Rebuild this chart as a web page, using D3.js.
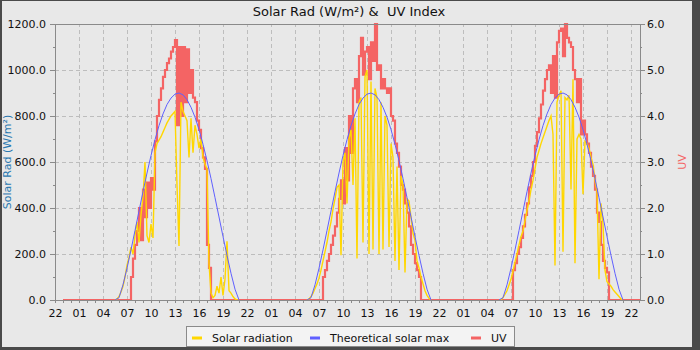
<!doctype html>
<html>
<head>
<meta charset="utf-8">
<style>
	body {
		margin: 0;
	}
	.grid line {
		stroke: #bdbdbd;
		stroke-dasharray: 4, 3;
		shape-rendering: crispEdges;
	}
	.grid path {
		stroke: none;
	}
	.axis text {
		font: 11px "DejaVu Sans", sans-serif;
		fill: #111;
	}
	.axis path, .axis line {
		stroke: #8a8a8a;
		shape-rendering: crispEdges;
	}
	.frame {
		fill: none;
		stroke: #8a8a8a;
		shape-rendering: crispEdges;
	}
	.series {
		fill: none;
		stroke-linejoin: miter;
	}
	.lbl {
		font: 11px "DejaVu Sans", sans-serif;
	}
	.title {
		font: 13px "DejaVu Sans", sans-serif;
		white-space: pre;
	}
</style>
<script src="https://d3js.org/d3.v7.min.js"></script>
</head>
<body>
<div id="canvas"></div>
<script>
	// hours counted from midnight of the first full day; each day has
	// 15-minute samples from 05:30 to 21:00
	var sampleStart = 5.5,
		sampleStep = 0.25;

	var solarDay1 = [0, 5, 15, 35, 60, 100, 150, 185, 230, 200, 280, 340, 250, 370, 450, 600,
		280, 250, 330, 270, 640, 680, 695, 710, 730, 750, 770, 785, 800, 810, 820, 500,
		235, 860, 820, 800, 780, 620, 790, 640, 760, 720, 660, 700, 620, 590, 570, 160,
		30, 10, 20, 60, 30, 100, 20, 90, 255, 40, 30, 15, 5, 0, 0];
	var solarDay2 = [0, 5, 15, 30, 50, 70, 95, 130, 170, 210, 250, 300, 340, 395, 440, 490,
		500, 195, 600, 640, 420, 700, 740, 500, 790, 180, 860, 880, 250, 970, 1000, 200,
		950, 220, 920, 880, 200, 860, 220, 800, 760, 230, 680, 620, 170, 580, 130, 540,
		500, 120, 440, 430, 360, 290, 260, 170, 140, 100, 70, 40, 20, 8, 0];
	var solarDay3 = [0, 0, 10, 25, 40, 65, 90, 125, 165, 200, 240, 275, 300, 345, 390, 430,
		480, 520, 570, 620, 650, 680, 705, 730, 755, 780, 800, 720, 150, 860, 890, 910,
		210, 880, 870, 890, 480, 960, 160, 700, 720, 700, 460, 690, 680, 660, 620, 590,
		520, 470, 90, 420, 330, 130, 80, 70, 60, 45, 35, 25, 15, 5, 0];

	var uvDay1 = [0, 0, 0, 0, 0, 0, 0, 0, 0.5, 0.9, 1.2, 1.5, 2.0, 1.3, 2.4, 1.8,
		2.55, 2.0, 2.65, 2.4, 3.45, 4.0, 4.35, 4.6, 4.85, 5.0, 5.15, 5.25, 5.4, 5.5, 5.65, 3.8,
		5.5, 4.0, 5.5, 4.3, 5.45, 4.5, 5.0, 4.4, 4.3, 3.9, 3.7, 3.3, 3.1, 2.85, 1.2, 0.7,
		0, 0, 0, 0, 0, 0, 0, 0, 0, 0, 0, 0, 0, 0, 0];
	var uvDay2 = [0, 0, 0, 0, 0, 0, 0, 0, 0.5, 0.65, 0.85, 1.0, 1.2, 1.4, 1.6, 1.9,
		2.2, 2.6, 2.1, 3.3, 2.6, 4.0, 3.2, 4.6, 4.8, 4.3, 5.3, 5.7, 4.9, 5.4, 5.5, 4.8,
		5.6, 5.2, 6.0, 5.0, 5.1, 4.6, 4.8, 4.6, 4.5, 4.6, 4.0, 3.9, 3.4, 3.2, 2.9, 2.5,
		2.4, 2.1, 1.9, 1.6, 1.2, 1.0, 0.8, 0.65, 0.5, 0, 0, 0, 0, 0, 0];
	var uvDay3 = [0, 0, 0, 0, 0, 0, 0, 0.65, 0.8, 1.0, 1.15, 1.35, 1.6, 1.85, 2.1, 2.45,
		2.7, 3.0, 3.35, 3.65, 3.95, 4.25, 4.55, 4.8, 5.0, 5.1, 4.5, 5.3, 4.4, 5.6, 5.85, 5.9,
		5.3, 6.0, 5.7, 5.6, 5.5, 5.0, 4.8, 4.3, 4.8, 3.6, 3.9, 3.6, 3.4, 3.2, 2.9, 2.7,
		2.4, 1.9, 1.7, 1.2, 0.85, 0.7, 0.6, 0, 0, 0, 0, 0, 0, 0, 0];

	// theoretical clear-sky maximum, half-hourly 05:30 - 21:00
	var theoStart = 5.5,
		theoStep = 0.5;
	var theoMax = [0, 10, 66, 138, 218, 302, 387, 471, 552, 628, 697, 758, 809, 850, 878, 895,
		900, 892, 871, 838, 795, 741, 677, 606, 528, 445, 361, 276, 194, 116, 47, 0];

	var xDomain = [-2, 71.125],
		yDomain = [0, 1200],
		uvDomain = [0, 6];

	var seriesNames = ["Solar radiation", "Theoretical solar max", "UV"],
		seriesColors = ["#ffd700", "#6060ff", "#f46464"];

	var width = 700,
		height = 350,
		margin = {top: 24, right: 60, bottom: 50, left: 55};

	var svg = d3.select("#canvas")
		.append("svg")
		.attr("width", width)
		.attr("height", height);

	svg.append("rect")
		.attr("width", width)
		.attr("height", height)
		.attr("fill", "#4a4a4a");

	svg.append("rect")
		.attr("x", 2)
		.attr("y", 1)
		.attr("width", 690)
		.attr("height", 346)
		.attr("fill", "#e8e8e8");

	var x = d3.scaleLinear()
		.domain(xDomain)
		.range([margin.left, width - margin.right]);

	var y = d3.scaleLinear()
		.domain(yDomain)
		.range([height - margin.bottom, margin.top]);

	var yUV = d3.scaleLinear()
		.domain(uvDomain)
		.range([height - margin.bottom, margin.top]);

	var hourLabel = function(h) {
		var hh = ((h % 24) + 24) % 24;
		return (hh < 10 ? "0" : "") + hh;
	};

	var majorHours = d3.range(-2, 71, 3),
		minorHours = d3.range(-2, 72, 1);

	// grid
	svg.append("g")
		.attr("class", "grid")
		.attr("transform", `translate(${margin.left}, 0)`)
		.call(d3.axisLeft(y)
			.tickValues(d3.range(200, 1200, 200))
			.tickSize(-(width - margin.left - margin.right))
			.tickFormat(""));

	svg.append("g")
		.attr("class", "grid")
		.attr("transform", `translate(0, ${height - margin.bottom})`)
		.call(d3.axisBottom(x)
			.tickValues(majorHours.slice(1))
			.tickSize(-(height - margin.top - margin.bottom))
			.tickFormat(""));

	// series
	svg.append("clipPath")
		.attr("id", "clip")
	  .append("rect")
		.attr("x", margin.left)
		.attr("y", margin.top - 2)
		.attr("width", width - margin.left - margin.right)
		.attr("height", height - margin.top - margin.bottom + 4);

	var plot = svg.append("g")
		.attr("clip-path", "url(#clip)");

	var uvPoints = [{h: -1, v: 0}];
	[uvDay1, uvDay2, uvDay3].forEach(function(vals, d) {
		vals.forEach(function(v, i) {
			uvPoints.push({h: d * 24 + sampleStart + i * sampleStep, v: v});
		});
	});
	uvPoints.push({h: xDomain[1] + 1, v: 0});

	var solarPoints = [solarDay1, solarDay2, solarDay3].map(function(vals, d) {
		return vals.map((v, i) => ({h: d * 24 + sampleStart + i * sampleStep, v: v}));
	});

	var theoPoints = [0, 1, 2].map(function(d) {
		return theoMax.map((v, i) => ({h: d * 24 + theoStart + i * theoStep, v: v}));
	});

	var uvLine = d3.line()
		.x(d => x(d.h))
		.y(d => yUV(d.v))
		.curve(d3.curveStepAfter);

	var solarLine = d3.line()
		.x(d => x(d.h))
		.y(d => y(d.v));

	var theoLine = d3.line()
		.x(d => x(d.h))
		.y(d => y(d.v));

	plot.append("path")
		.attr("class", "series")
		.attr("d", uvLine(uvPoints))
		.attr("stroke", seriesColors[2])
		.attr("stroke-width", 2.2);

	plot.selectAll(".solar")
		.data(solarPoints)
	  .enter().append("path")
		.attr("class", "series solar")
		.attr("d", solarLine)
		.attr("stroke", seriesColors[0])
		.attr("stroke-width", 1.4);

	plot.selectAll(".theo")
		.data(theoPoints)
	  .enter().append("path")
		.attr("class", "series theo")
		.attr("d", theoLine)
		.attr("stroke", seriesColors[1])
		.attr("stroke-width", 1);

	// frame and axes
	svg.append("rect")
		.attr("class", "frame")
		.attr("x", margin.left + 0.5)
		.attr("y", margin.top + 0.5)
		.attr("width", width - margin.left - margin.right)
		.attr("height", height - margin.top - margin.bottom);

	svg.append("g")
		.attr("class", "axis")
		.attr("transform", `translate(${margin.left}, 0)`)
		.call(d3.axisLeft(y)
			.tickValues(d3.range(0, 1201, 200))
			.tickSize(5)
			.tickSizeOuter(0)
			.tickPadding(4)
			.tickFormat(d3.format(".1f")));

	svg.append("g")
		.attr("class", "axis")
		.attr("transform", `translate(${margin.left}, 0)`)
		.call(d3.axisLeft(y)
			.tickValues(d3.range(100, 1200, 200))
			.tickSize(2)
			.tickSizeOuter(0)
			.tickFormat(""));

	svg.append("g")
		.attr("class", "axis")
		.attr("transform", `translate(${width - margin.right}, 0)`)
		.call(d3.axisRight(yUV)
			.tickValues(d3.range(0, 6.01, 1))
			.tickSize(5)
			.tickSizeOuter(0)
			.tickPadding(2)
			.tickFormat(d3.format(".1f")));

	svg.append("g")
		.attr("class", "axis")
		.attr("transform", `translate(${width - margin.right}, 0)`)
		.call(d3.axisRight(yUV)
			.tickValues(d3.range(0.5, 6, 1))
			.tickSize(2)
			.tickSizeOuter(0)
			.tickFormat(""));

	svg.append("g")
		.attr("class", "axis")
		.attr("transform", `translate(0, ${height - margin.bottom})`)
		.call(d3.axisBottom(x)
			.tickValues(minorHours)
			.tickSize(3)
			.tickSizeOuter(0)
			.tickFormat(""));

	svg.append("g")
		.attr("class", "axis")
		.attr("transform", `translate(0, ${height - margin.bottom})`)
		.call(d3.axisBottom(x)
			.tickValues(majorHours)
			.tickSize(3)
			.tickSizeOuter(0)
			.tickPadding(6)
			.tickFormat(hourLabel));

	svg.selectAll(".axis .domain").remove();

	// titles
	svg.append("text")
		.attr("class", "title")
		.attr("x", 349)
		.attr("y", 16)
		.attr("text-anchor", "middle")
		.attr("fill", "#111")
		.text("Solar Rad (W/m²) &  UV Index");

	svg.append("text")
		.attr("class", "lbl")
		.attr("transform", "translate(11, 162) rotate(-90)")
		.attr("text-anchor", "middle")
		.attr("fill", "#2a78b0")
		.text("Solar Rad (W/m²)");

	svg.append("text")
		.attr("class", "lbl")
		.attr("transform", "translate(686, 162) rotate(-90)")
		.attr("text-anchor", "middle")
		.attr("fill", "#f46464")
		.text("UV");

	// legend
	var legend = svg.append("g");

	legend.append("rect")
		.attr("x", 186.5)
		.attr("y", 326.5)
		.attr("width", 328)
		.attr("height", 20)
		.attr("fill", "#f3f3f3")
		.attr("stroke", "#8a8a8a");

	var legendX = [192, 310, 471];

	var items = legend.selectAll(".item")
		.data(seriesNames)
	  .enter().append("g")
		.attr("class", "item")
		.attr("transform", (d, i) => `translate(${legendX[i]}, 338)`);

	items.append("line")
		.attr("x1", 0)
		.attr("x2", 10)
		.attr("stroke", (d, i) => seriesColors[i])
		.attr("stroke-width", 3);

	items.append("text")
		.attr("class", "lbl")
		.attr("x", 20)
		.attr("y", 4)
		.attr("fill", "#111")
		.text(d => d);
</script>
</body>
</html>
